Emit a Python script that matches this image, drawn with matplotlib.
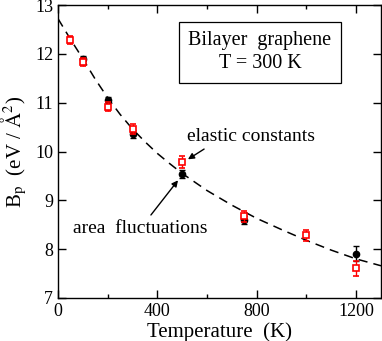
import matplotlib
matplotlib.use("Agg")
import matplotlib.pyplot as plt
from matplotlib.ticker import MultipleLocator

# area fluctuations (black circles)
T_area = [100, 200, 300, 500, 750, 1200]
B_area = [11.90, 11.05, 10.36, 9.54, 8.59, 7.91]
E_area = [0.05, 0.06, 0.08, 0.08, 0.08, 0.15]

# elastic constants (red squares)
T_el = [50, 100, 200, 300, 500, 750, 1000, 1200]
B_el = [12.28, 11.83, 10.92, 10.46, 9.78, 8.67, 8.28, 7.61]
E_el = [0.08, 0.08, 0.09, 0.1, 0.12, 0.11, 0.12, 0.15]

# dashed fit curve
T_fit = [0, 50, 100, 150, 200, 250, 300, 350, 400, 450, 500, 600, 700, 800, 900, 1000, 1100, 1200, 1300]
B_fit = [12.72, 12.30, 11.90, 11.48, 11.10, 10.76, 10.46, 10.20, 9.96, 9.75, 9.55, 9.20, 8.90, 8.63, 8.40, 8.18, 7.98, 7.80, 7.66]

plt.rcParams['font.family'] = ['Liberation Serif', 'DejaVu Serif']
plt.rcParams['mathtext.fontset'] = 'stix'

fig = plt.figure(figsize=(3.82, 3.41), dpi=100)
ax = fig.add_axes([58/382, 1-298/341, (381-58)/382, (298-5)/341])

ax.plot(T_fit, B_fit, ls=(0, (6, 4)), color='black', lw=1.1, zorder=1)
ax.errorbar(T_area, B_area, yerr=E_area, fmt='o', color='black', ms=4.5,
            capsize=2.5, elinewidth=1, capthick=1, zorder=3)
ax.errorbar(T_el, B_el, yerr=E_el, fmt='s', color='red', mfc='white', mec='red',
            ms=5, mew=1.2, capsize=2.5, elinewidth=1, capthick=1, zorder=4)

ax.set_xlim(0, 1300)
ax.set_ylim(7, 13)
ax.xaxis.set_major_locator(MultipleLocator(400))
ax.xaxis.set_minor_locator(MultipleLocator(200))
ax.yaxis.set_major_locator(MultipleLocator(1))
ax.tick_params(which='both', direction='in', top=True, right=True, labelsize=13)
ax.tick_params(which='major', length=6, width=1)
ax.tick_params(which='minor', length=3, width=1)
for s in ax.spines.values():
    s.set_linewidth(1.0)

ax.set_xlabel('Temperature  (K)', fontsize=15, labelpad=2)
ax.set_ylabel(r'B$_\mathrm{p}$  (eV / $\mathrm{\AA}^2$)', fontsize=15, labelpad=4)

ax.text(813, 12.03, 'Bilayer  graphene\nT = 300 K', fontsize=14.5, ha='center', va='center',
        linespacing=1.3,
        bbox=dict(boxstyle='square,pad=0.45', fc='white', ec='black', lw=0.9))

ax.text(519, 10.30, 'elastic constants', fontsize=14, ha='left', va='center')
ax.annotate('', xy=(523, 9.84), xytext=(588, 10.05),
            arrowprops=dict(arrowstyle='-|>', color='black', lw=1, mutation_scale=9,
                            shrinkA=0, shrinkB=0))
ax.annotate('', xy=(483, 9.41), xytext=(374, 8.70),
            arrowprops=dict(arrowstyle='-|>', color='black', lw=1, mutation_scale=9,
                            shrinkA=0, shrinkB=0))
ax.text(60, 8.43, 'area  fluctuations', fontsize=14, ha='left', va='center')

fig.savefig('out.png', dpi=100)
